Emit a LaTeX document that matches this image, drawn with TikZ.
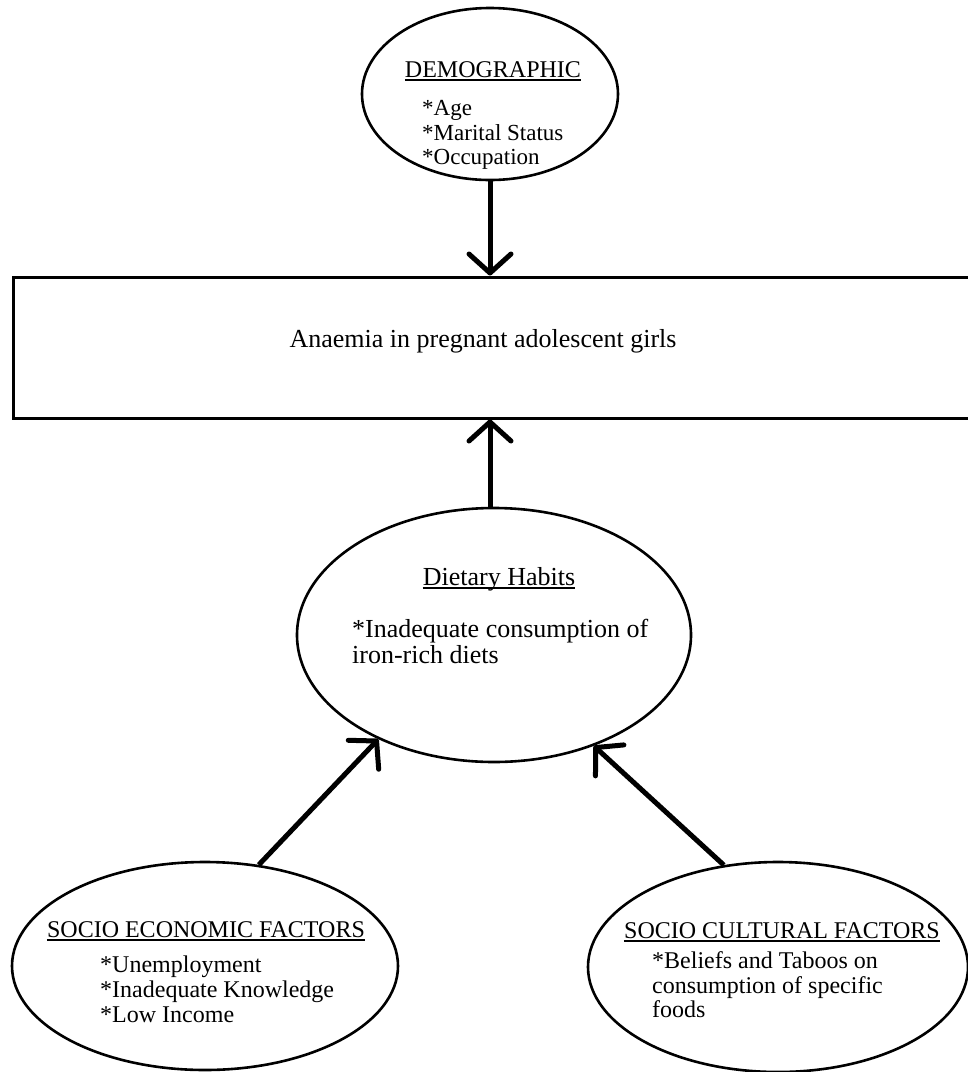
\documentclass[tikz,border=0pt]{standalone}
\usepackage{fontspec}
\setmainfont{Liberation Serif}
\usetikzlibrary{shapes.geometric,arrows.meta}
\tikzset{
  oval/.style={draw, ellipse, line width=2.6pt, inner sep=0pt},
  box/.style={draw, rectangle, line width=3pt, inner sep=0pt},
  txt/.style={inner sep=0pt, font=\fontsize{24}{25}\selectfont},
  txtb/.style={inner sep=0pt, font=\fontsize{26}{26}\selectfont},
  txts/.style={inner sep=0pt, font=\fontsize{23}{24}\selectfont},
  arr/.style={line width=5pt, -{Straight Barb[length=19pt,width=42pt,round]}},
  uline/.style={line width=1.2pt},
}
\begin{document}
\begin{tikzpicture}[x=1pt,y=-1pt]
\useasboundingbox (0,0) rectangle (968,1072);
\fill[white] (0,0) rectangle (968,1072);

% shapes
\node[oval, minimum width=256pt, minimum height=172pt] (demo) at (490,94) {};
\node[box, minimum width=962pt, minimum height=141pt] (anaemia) at (494,347.5) {};
\node[oval, minimum width=394pt, minimum height=254pt] (diet) at (494,635) {};
\node[oval, minimum width=386pt, minimum height=208pt] (econ) at (205,966) {};
\node[oval, minimum width=380pt, minimum height=210pt] (cult) at (778,967) {};

% texts
\node[txt, anchor=base] (demot) at (493,77) {DEMOGRAPHIC};
\node[txts, anchor=base west] (demo1) at (422,115) {*Age};
\node[txts, anchor=base west] (demo2) at (422,140) {*Marital Status};
\node[txts, anchor=base west] (demo3) at (422,164) {*Occupation};

\node[txtb, anchor=base] (anat) at (483,347) {Anaemia in pregnant adolescent girls};

\node[txtb, anchor=base] (diett) at (499,585) {Dietary Habits};
\node[txtb, anchor=base west] (diet1) at (352,637) {*Inadequate consumption of};
\node[txtb, anchor=base west] (diet2) at (352,663) {iron-rich diets};

\node[txt, anchor=base] (econt) at (206,937) {SOCIO ECONOMIC FACTORS};
\node[txt, anchor=base west] (econ1) at (100,972) {*Unemployment};
\node[txt, anchor=base west] (econ2) at (100,997) {*Inadequate Knowledge};
\node[txt, anchor=base west] (econ3) at (100,1022) {*Low Income};

\node[txt, anchor=base] (cultt) at (782,938) {SOCIO CULTURAL FACTORS};
\node[txt, anchor=base west] (cult1) at (652,968) {*Beliefs and Taboos on};
\node[txt, anchor=base west] (cult2) at (652,993) {consumption of specific};
\node[txt, anchor=base west] (cult3) at (652,1017) {foods};

% underlines
\foreach \t in {demot,diett,econt,cultt}
  \draw[uline] ([yshift=-3pt]\t.base west) -- ([yshift=-3pt]\t.base east);

% connectors
\draw[arr] (demo.south) -- (demo.south |- anaemia.north);
\draw[arr] (diet.north -| demo.south) -- (demo.south |- anaemia.south);
\draw[arr] (econ.62) -- (diet.222);
\draw[arr] (cult.118) -- (diet.312);
\end{tikzpicture}
\end{document}
